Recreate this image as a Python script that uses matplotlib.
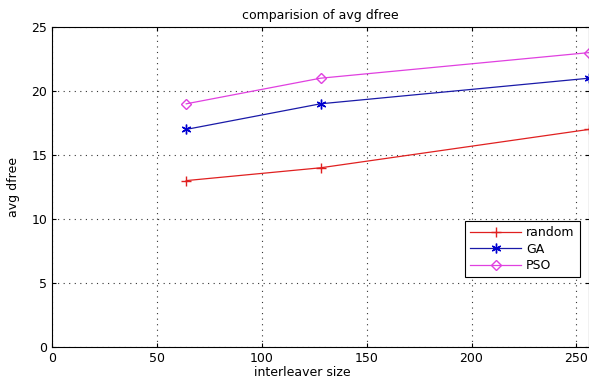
import matplotlib
matplotlib.use("Agg")
import matplotlib.pyplot as plt

# data
interleaver_size = [64, 128, 256]
random_dfree = [13, 14, 17]
ga_dfree = [17, 19, 21]
pso_dfree = [19, 21, 23]

plt.rcParams['font.family'] = ['DejaVu Sans']
plt.rcParams['font.size'] = 9

fig = plt.figure(figsize=(5.89, 3.81), dpi=100)
ax = fig.add_axes([52 / 589, 1 - 347 / 381, 537 / 589, 320 / 381])

ax.plot(interleaver_size, random_dfree, color='#e02020', marker='+', markersize=7,
        linewidth=0.9, label='random')
ax.plot(interleaver_size, ga_dfree, color='#1a1aa8', marker=(6, 2, 0), markersize=7,
        markeredgecolor='#0000d0', linewidth=0.9, label='GA')
ax.plot(interleaver_size, pso_dfree, color='#e040e0', marker='D', markersize=5,
        markerfacecolor='none', linewidth=0.9, label='PSO')

ax.set_xlim(0, 256)
ax.set_ylim(0, 25)
ax.set_xticks([0, 50, 100, 150, 200, 250])
ax.set_yticks([0, 5, 10, 15, 20, 25])
ax.grid(True, linestyle=(0, (1, 4)), color='#333333', linewidth=0.8)
ax.tick_params(direction='in', length=3, width=0.8, top=True, right=True, labelsize=9)
for s in ax.spines.values():
    s.set_linewidth(0.8)

ax.set_title('comparision of avg dfree', fontsize=9, pad=6)
ax.set_xlabel('interleaver size', fontsize=9)
ax.xaxis.set_label_coords(0.467, -0.058)
ax.set_ylabel('avg dfree', fontsize=9, labelpad=8)

leg = ax.legend(loc='upper left', bbox_to_anchor=(0.769, 0.394), fancybox=False,
                edgecolor='black', framealpha=1, handlelength=4.1, handletextpad=0.4,
                borderaxespad=0, fontsize=9, labelspacing=0.3)
leg.get_frame().set_linewidth(0.8)

fig.savefig('out.png', dpi=100)
